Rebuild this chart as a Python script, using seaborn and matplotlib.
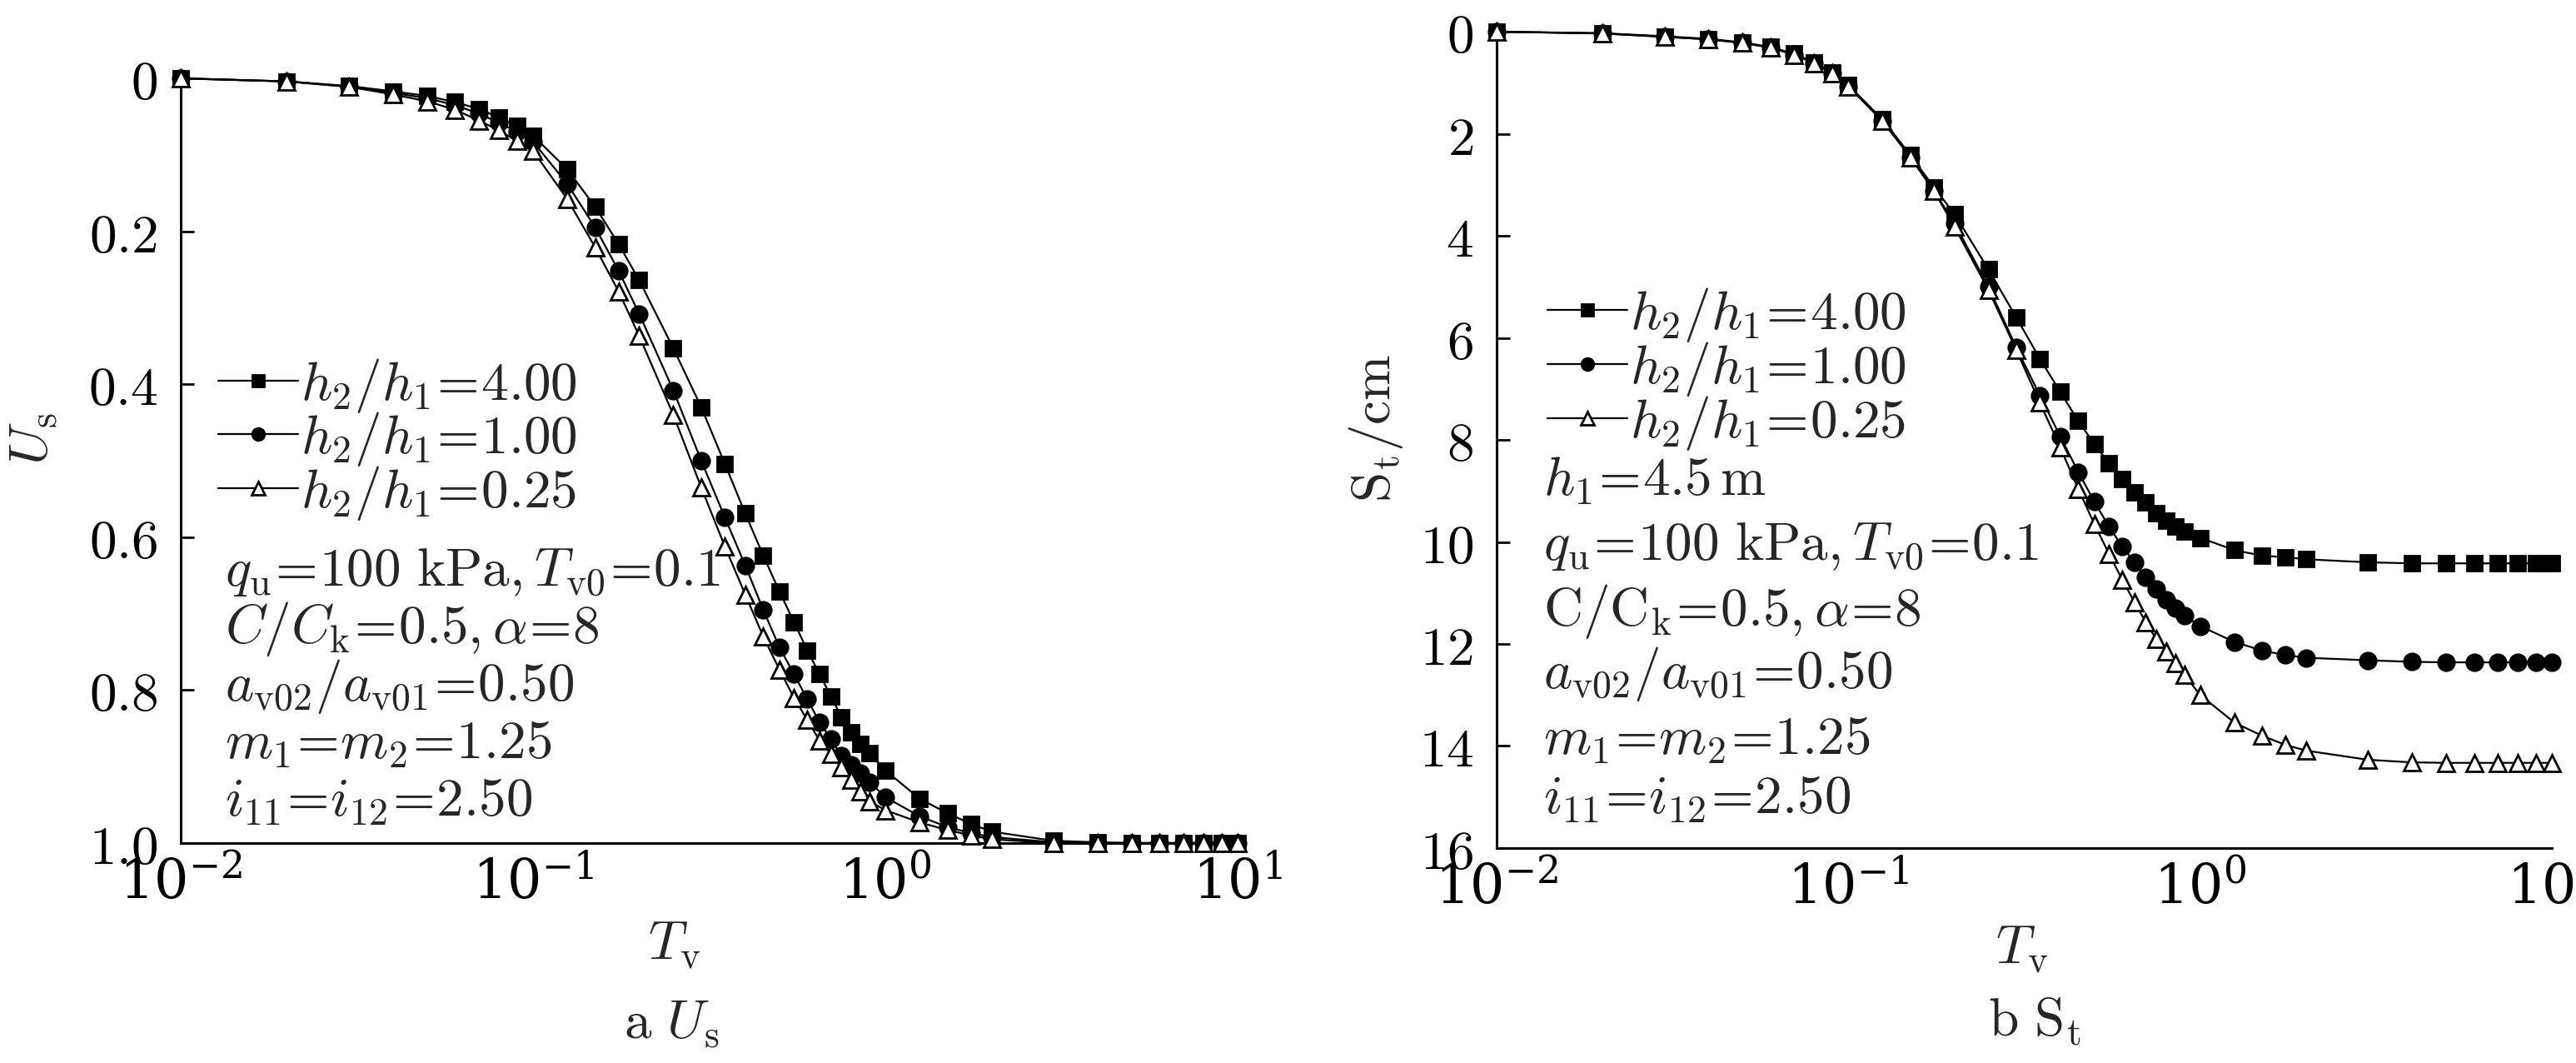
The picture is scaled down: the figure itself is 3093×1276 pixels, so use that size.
import numpy as np
import pandas as pd
import seaborn as sns
import matplotlib.pyplot as plt
from matplotlib.ticker import FixedLocator, LogLocator, NullFormatter

# --- data ---
T_V = [0.01, 0.02, 0.03, 0.04, 0.05, 0.06, 0.07, 0.08, 0.09, 0.1,
       0.125, 0.15, 0.175, 0.2, 0.25, 0.3, 0.35, 0.4, 0.45, 0.5,
       0.55, 0.6, 0.65, 0.7, 0.75, 0.8, 0.85, 0.9, 1.0,
       1.25, 1.5, 1.75, 2, 3, 4, 5, 6, 7, 8, 9, 10]

# a: Us
US_400 = [0.0, 0.004, 0.010, 0.017, 0.023, 0.031, 0.040, 0.051, 0.062, 0.075,
          0.119, 0.168, 0.217, 0.264, 0.353, 0.430, 0.504, 0.569, 0.624, 0.671,
          0.711, 0.748, 0.779, 0.808, 0.835, 0.855, 0.870, 0.882, 0.905,
          0.942, 0.961, 0.975, 0.985, 0.997, 0.999, 1.0, 1.0, 1.0, 1.0, 1.0, 1.0]
US_100 = [0.0, 0.004, 0.011, 0.019, 0.026, 0.035, 0.046, 0.058, 0.070, 0.083,
          0.138, 0.195, 0.252, 0.308, 0.408, 0.500, 0.574, 0.637, 0.695, 0.744,
          0.779, 0.812, 0.842, 0.864, 0.886, 0.898, 0.909, 0.920, 0.940,
          0.965, 0.979, 0.987, 0.992, 0.999, 1.0, 1.0, 1.0, 1.0, 1.0, 1.0, 1.0]
US_025 = [0.0, 0.004, 0.011, 0.021, 0.030, 0.041, 0.055, 0.068, 0.082, 0.095,
          0.158, 0.221, 0.279, 0.337, 0.440, 0.535, 0.612, 0.675, 0.730, 0.773,
          0.810, 0.839, 0.866, 0.883, 0.901, 0.917, 0.932, 0.945, 0.957,
          0.973, 0.983, 0.990, 0.995, 1.0, 1.0, 1.0, 1.0, 1.0, 1.0, 1.0, 1.0]

# b: St (cm)
ST_400 = [0.0, 0.03, 0.09, 0.14, 0.21, 0.30, 0.43, 0.60, 0.80, 1.05,
          1.72, 2.42, 3.05, 3.57, 4.66, 5.60, 6.41, 7.06, 7.63, 8.08,
          8.46, 8.77, 9.03, 9.23, 9.43, 9.58, 9.70, 9.79, 9.92,
          10.16, 10.27, 10.30, 10.34, 10.40, 10.42, 10.42, 10.42, 10.42, 10.42, 10.42, 10.42]
ST_100 = [0.0, 0.035, 0.10, 0.15, 0.22, 0.31, 0.45, 0.62, 0.82, 1.07,
          1.75, 2.46, 3.12, 3.75, 5.00, 6.19, 7.13, 7.93, 8.63, 9.21,
          9.70, 10.09, 10.40, 10.69, 10.92, 11.13, 11.29, 11.44, 11.65,
          11.96, 12.13, 12.22, 12.27, 12.32, 12.35, 12.36, 12.36, 12.36, 12.36, 12.36, 12.36]
ST_025 = [0.0, 0.035, 0.10, 0.15, 0.22, 0.31, 0.45, 0.62, 0.82, 1.07,
          1.75, 2.46, 3.12, 3.82, 5.06, 6.24, 7.27, 8.15, 8.96, 9.65,
          10.23, 10.74, 11.18, 11.57, 11.91, 12.15, 12.38, 12.60, 13.00,
          13.54, 13.80, 13.98, 14.09, 14.27, 14.32, 14.33, 14.33, 14.33, 14.33, 14.33, 14.33]

EQ = r'\!=\!'
SERIES_LABELS = [r'$h_2/h_1' + EQ + '4.00$', r'$h_2/h_1' + EQ + '1.00$',
                 r'$h_2/h_1' + EQ + '0.25$']
US_TICKS = [0, 0.2, 0.4, 0.6, 0.8, 1.0]
US_TICKLABELS = ['0', '0.2', '0.4', '0.6', '0.8', '1.0']
ST_TICKS = [0, 2, 4, 6, 8, 10, 12, 14, 16]
ST_TICKLABELS = [str(v) for v in ST_TICKS]

TEXT_A = [r'$q_\mathrm{u}' + EQ + r'100\ \mathrm{kPa},T_\mathrm{v0}' + EQ + '0.1$',
          r'$C/C_\mathrm{k}' + EQ + r'0.5,\alpha' + EQ + '8$',
          r'$a_\mathrm{v02}/a_\mathrm{v01}' + EQ + '0.50$',
          r'$m_1' + EQ + 'm_2' + EQ + '1.25$',
          r'$i_{11}' + EQ + 'i_{12}' + EQ + '2.50$']
TEXT_B = [r'$h_1' + EQ + r'4.5\,\mathrm{m}$', TEXT_A[0],
          r'$\mathrm{C}/\mathrm{C}_\mathrm{k}' + EQ + r'0.5,\alpha' + EQ + '8$'] + TEXT_A[2:]

# --- style ---
sns.set_theme(style='white')
plt.rcParams['font.family'] = ['DejaVu Serif']
plt.rcParams['mathtext.fontset'] = 'cm'
plt.rcParams['axes.unicode_minus'] = False

FS = 47
MARKERS = [dict(marker='s', markersize=13, markerfacecolor='black'),
           dict(marker='o', markersize=14, markerfacecolor='black'),
           dict(marker='^', markersize=15, markerfacecolor='white')]

fig = plt.figure(figsize=(30.93, 12.76), dpi=100)
ax_a = fig.add_axes([0.0702, 0.2069, 0.4103, 0.7194])
ax_b = fig.add_axes([0.5810, 0.2022, 0.4097, 0.7680])


def draw_panel(ax, series, yticks, yticklabels, ylim):
    for vals, lab, mk in zip(series, SERIES_LABELS, MARKERS):
        df = pd.DataFrame({'T': T_V, 'v': vals})
        sns.lineplot(data=df, x='T', y='v', ax=ax, color='black', linewidth=1.6,
                     markeredgecolor='black', markeredgewidth=2, clip_on=False,
                     label=lab, zorder=3, **mk)
    ax.set_xscale('log')
    ax.set_xlim(0.01, 10)
    ax.set_ylim(*ylim)
    ax.yaxis.set_major_locator(FixedLocator(yticks))
    ax.set_yticklabels(['$' + t + '$' for t in yticklabels])
    ax.xaxis.set_major_locator(LogLocator(base=10, numticks=10))
    ax.xaxis.set_minor_locator(LogLocator(base=10, subs=np.arange(2, 10), numticks=20))
    ax.xaxis.set_minor_formatter(NullFormatter())
    for s in ['top', 'right']:
        ax.spines[s].set_visible(False)
    for s in ['left', 'bottom']:
        ax.spines[s].set_linewidth(2.2)
        ax.spines[s].set_color('black')
    ax.tick_params(axis='x', which='major', direction='in', length=13, width=2,
                   labelsize=FS, pad=12, colors='black')
    ax.tick_params(axis='x', which='minor', direction='in', length=6.5, width=1.8,
                   colors='black')
    ax.tick_params(axis='y', which='major', direction='in', length=11.5, width=2,
                   labelsize=FS, pad=20, colors='black', left=True)
    ax.set_xlabel('')
    ax.set_ylabel('')


draw_panel(ax_a, [US_400, US_100, US_025], US_TICKS, US_TICKLABELS, (1.0, 0.0))
draw_panel(ax_b, [ST_400, ST_100, ST_025], ST_TICKS, ST_TICKLABELS, (16, 0))

# legends
leg_kw = dict(loc='center left', frameon=False, fontsize=FS, handlelength=1.47,
              handletextpad=0.05, labelspacing=-0.08, borderpad=0, borderaxespad=0,
              numpoints=1, markerscale=0.75)
ax_a.legend(bbox_to_anchor=(0.035, 0.528), **leg_kw)
ax_b.legend(bbox_to_anchor=(0.048, 0.587), **leg_kw)

# parameter notes
for y, s in zip([0.355, 0.280, 0.205, 0.130, 0.055], TEXT_A):
    ax_a.text(0.042, y, s, transform=ax_a.transAxes, fontsize=FS, ha='left', va='center')
for y, s in zip([0.450, 0.370, 0.290, 0.213, 0.133, 0.060], TEXT_B):
    ax_b.text(0.044, y, s, transform=ax_b.transAxes, fontsize=FS, ha='left', va='center')

# axis titles and captions (figure pixel coordinates)
W, H = 3093, 1276
def fig_text(x, y, s, **kw):
    fig.text(x / W, 1 - y / H, s, fontsize=FS, ha='center', va='center', **kw)

fig_text(39, 527, r'$U_\mathrm{s}$', rotation=90)
fig_text(1652, 514, r'$\mathrm{S}_\mathrm{t}/\mathrm{cm}$', rotation=90)
fig_text(810, 1133, r'$T_\mathrm{v}$')
fig_text(2428, 1138, r'$T_\mathrm{v}$')
fig_text(806, 1228, r'$\mathrm{a}\ U_\mathrm{s}$')
fig_text(2443, 1225, r'$\mathrm{b}\ \mathrm{S}_\mathrm{t}$')

fig.savefig('out.png', dpi=100, facecolor='white')
